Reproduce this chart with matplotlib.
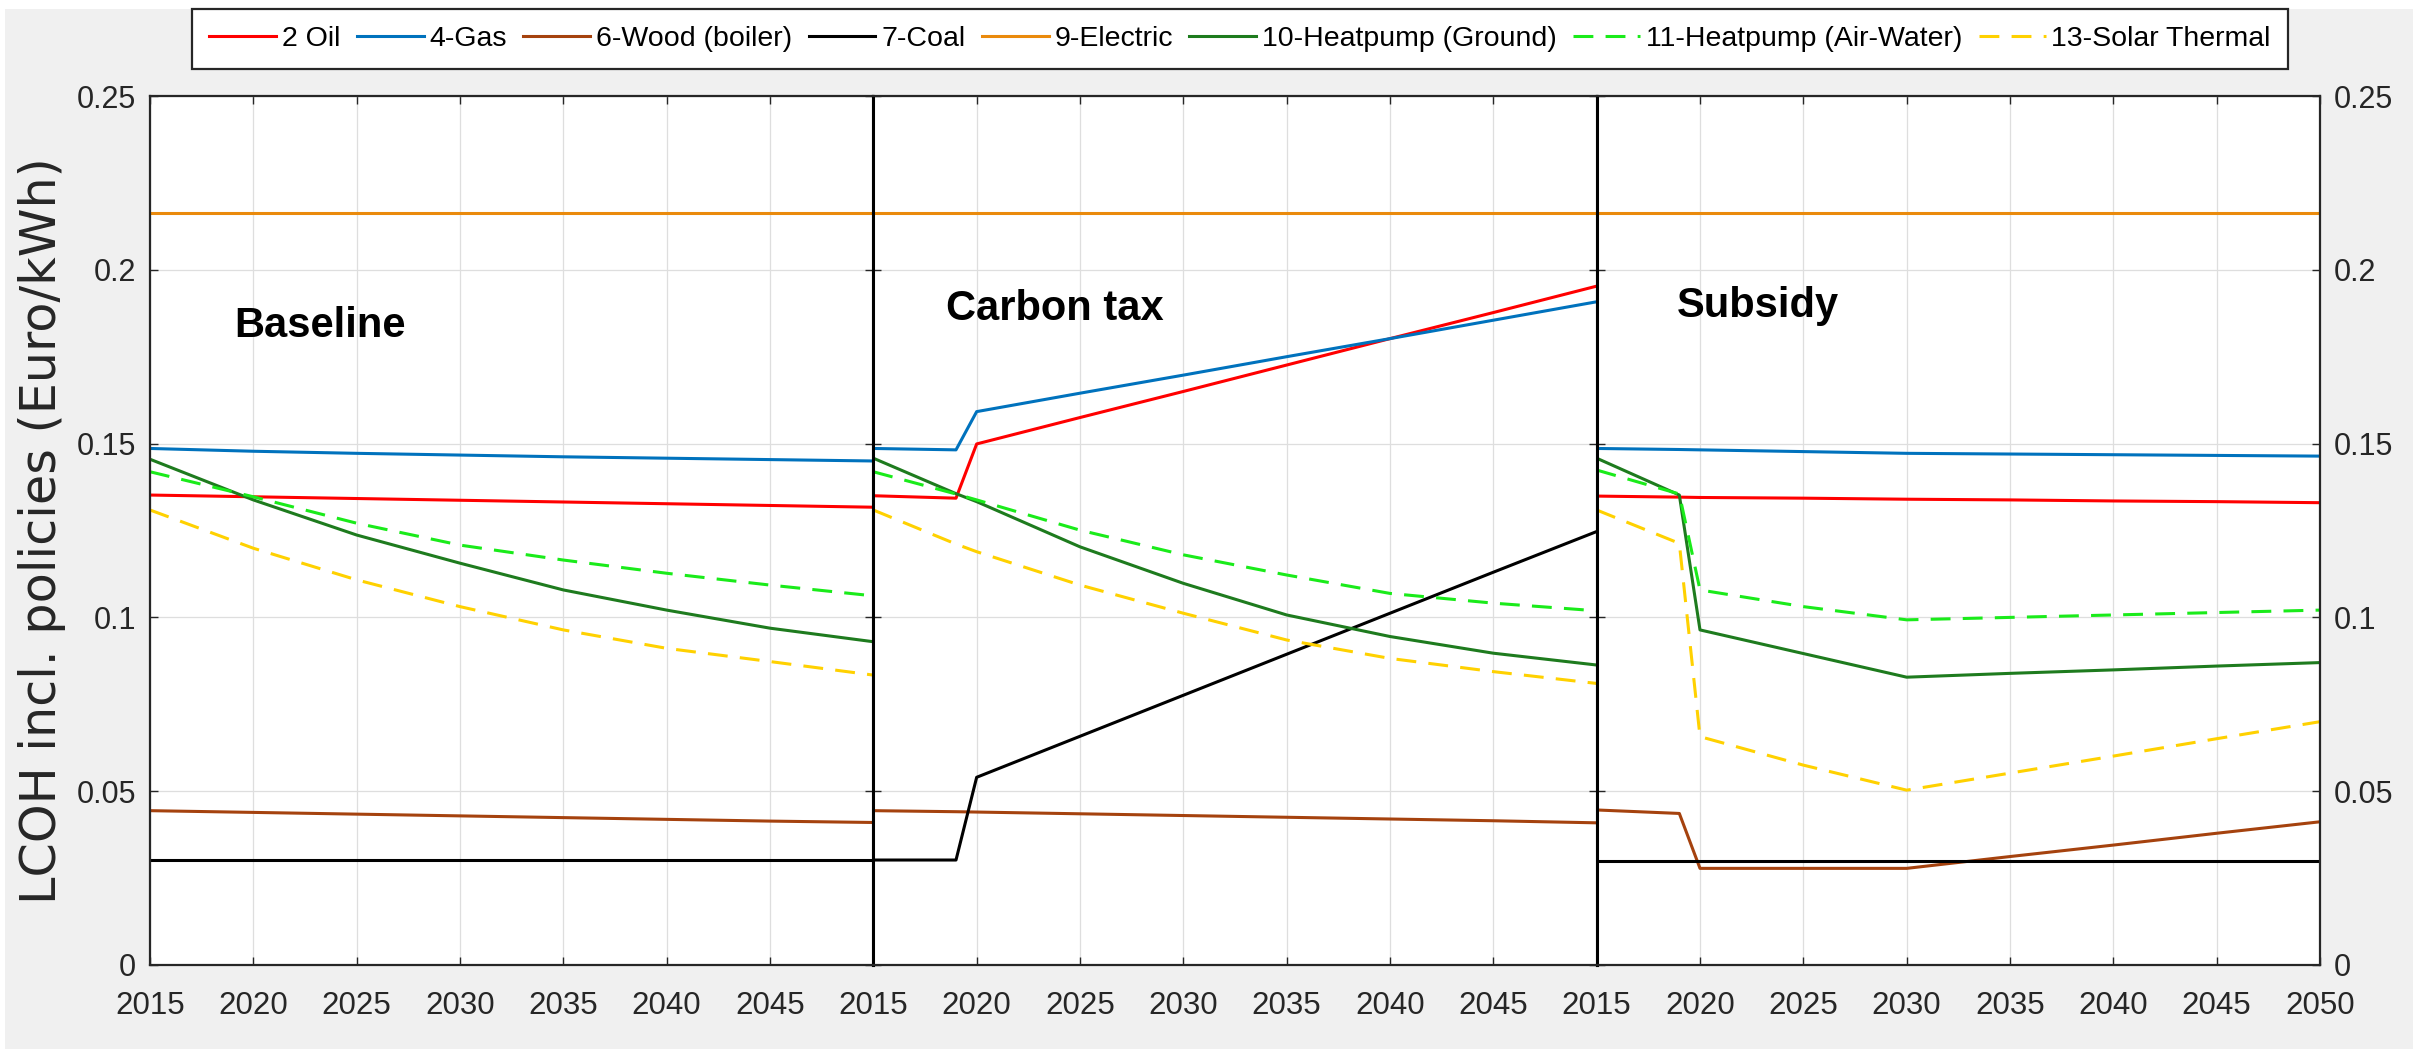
import matplotlib
matplotlib.use("Agg")
import matplotlib.pyplot as plt
from matplotlib.patches import Rectangle

# ---------------------------------------------------------------------------
# Levelised cost of heat (Euro/kWh) per technology under three policy cases
# ---------------------------------------------------------------------------
years_base = [2015, 2020, 2025, 2030, 2035, 2040, 2045, 2050]
years_policy = [2015, 2019, 2020, 2025, 2030, 2035, 2040, 2045, 2050]

scenarios = ["Baseline", "Carbon tax", "Subsidy"]
technologies = ["2 Oil", "4-Gas", "6-Wood (boiler)", "7-Coal", "9-Electric",
                "10-Heatpump (Ground)", "11-Heatpump (Air-Water)", "13-Solar Thermal"]

# Baseline
oil_base = [0.1352, 0.1347, 0.1342, 0.1337, 0.1332, 0.1327, 0.1322, 0.1317]
gas_base = [0.1486, 0.1478, 0.1472, 0.1467, 0.1462, 0.1458, 0.1454, 0.1450]
wood_base = [0.0444, 0.0439, 0.0434, 0.0429, 0.0424, 0.0419, 0.0414, 0.0410]
coal_base = [0.0302, 0.0302, 0.0302, 0.0302, 0.0302, 0.0302, 0.0302, 0.0302]
elec_base = [0.2164, 0.2164, 0.2164, 0.2164, 0.2164, 0.2164, 0.2164, 0.2164]
hp_ground_base = [0.1455, 0.1338, 0.1237, 0.1156, 0.1079, 0.1021, 0.0969, 0.0930]
hp_air_base = [0.1419, 0.1347, 0.1271, 0.1208, 0.1165, 0.1127, 0.1093, 0.1062]
solar_base = [0.1309, 0.1199, 0.1108, 0.1031, 0.0964, 0.0911, 0.0873, 0.0834]

# Carbon tax (introduced 2020)
oil_tax = [0.1350, 0.1343, 0.1499, 0.1575, 0.1650, 0.1726, 0.1802, 0.1877, 0.1953]
gas_tax = [0.1486, 0.1482, 0.1592, 0.1645, 0.1697, 0.1750, 0.1802, 0.1855, 0.1908]
wood_tax = [0.0444, 0.0441, 0.0440, 0.0435, 0.0430, 0.0425, 0.0420, 0.0415, 0.0409]
coal_tax = [0.0302, 0.0302, 0.0540, 0.0658, 0.0776, 0.0894, 0.1012, 0.1130, 0.1247]
elec_tax = [0.2164, 0.2164, 0.2164, 0.2164, 0.2164, 0.2164, 0.2164, 0.2164, 0.2164]
hp_ground_tax = [0.1458, 0.1356, 0.1333, 0.1203, 0.1098, 0.1007, 0.0945, 0.0897, 0.0863]
hp_air_tax = [0.1419, 0.1355, 0.1338, 0.1251, 0.1180, 0.1122, 0.1069, 0.1041, 0.1019]
solar_tax = [0.1309, 0.1211, 0.1189, 0.1093, 0.1012, 0.0935, 0.0882, 0.0844, 0.0810]

# Subsidy (introduced 2020)
oil_sub = [0.1349, 0.1346, 0.1345, 0.1343, 0.1340, 0.1338, 0.1335, 0.1333, 0.1330]
gas_sub = [0.1486, 0.1483, 0.1482, 0.1477, 0.1472, 0.1470, 0.1468, 0.1466, 0.1464]
wood_sub = [0.0446, 0.0436, 0.0278, 0.0278, 0.0278, 0.0312, 0.0345, 0.0379, 0.0412]
coal_sub = [0.0300, 0.0300, 0.0300, 0.0300, 0.0300, 0.0300, 0.0300, 0.0300, 0.0300]
elec_sub = [0.2164, 0.2164, 0.2164, 0.2164, 0.2164, 0.2164, 0.2164, 0.2164, 0.2164]
hp_ground_sub = [0.1458, 0.1352, 0.0964, 0.0896, 0.0828, 0.0839, 0.0849, 0.0860, 0.0870]
hp_air_sub = [0.1424, 0.1355, 0.1079, 0.1031, 0.0993, 0.1000, 0.1007, 0.1014, 0.1021]
solar_sub = [0.1309, 0.1213, 0.0657, 0.0575, 0.0503, 0.0552, 0.0601, 0.0651, 0.0700]

y_ticks = [0, 0.05, 0.1, 0.15, 0.2, 0.25]
y_tick_labels = ["0", "0.05", "0.1", "0.15", "0.2", "0.25"]

# ---------------------------------------------------------------------------
colors = ["#FF0000", "#0072BD", "#A5420E", "#000000", "#EA8A0C",
          "#1E7B1E", "#1AEB1A", "#FFD100"]
dashed = [False, False, False, False, False, False, True, True]

panels = [
    (years_base, [oil_base, gas_base, wood_base, coal_base, elec_base,
                  hp_ground_base, hp_air_base, solar_base]),
    (years_policy, [oil_tax, gas_tax, wood_tax, coal_tax, elec_tax,
                    hp_ground_tax, hp_air_tax, solar_tax]),
    (years_policy, [oil_sub, gas_sub, wood_sub, coal_sub, elec_sub,
                    hp_ground_sub, hp_air_sub, solar_sub]),
]
title_pos = [(2019.1, 0.1838), (2018.5, 0.1887), (2018.9, 0.1895)]

narrow = ["Liberation Sans Narrow", "Liberation Sans", "DejaVu Sans"]
plt.rcParams["font.family"] = ["Liberation Sans", "DejaVu Sans"]

W, H = 2425, 1061
fig = plt.figure(figsize=(W / 100, H / 100), dpi=100)
fig.patch.set_facecolor("white")
fig.patches.append(Rectangle((5 / W, 12 / H), 2408 / W, 1040 / H,
                             transform=fig.transFigure, facecolor="#F0F0F0",
                             edgecolor="none", zorder=-10))

left, right = 150 / W, 2320 / W
bottom, top = 1 - 965 / H, 1 - 96 / H
pw = (right - left) / 3
axes = [fig.add_axes([left + i * pw, bottom, pw, top - bottom]) for i in range(3)]

handles = []
for i, (ax, (yrs, series)) in enumerate(zip(axes, panels)):
    for j, vals in enumerate(series):
        if dashed[j]:
            ln, = ax.plot(yrs, vals, color=colors[j], lw=2.2, ls="--",
                          dashes=(6.5, 4), label=technologies[j])
        else:
            ln, = ax.plot(yrs, vals, color=colors[j], lw=2.2,
                          label=technologies[j])
        if i == 0:
            handles.append(ln)

    ax.set_xlim(2015, 2050)
    ax.set_ylim(0, 0.25)
    ax.set_facecolor("white")
    if i < 2:
        ax.set_xticks(list(range(2015, 2050, 5)))
    else:
        ax.set_xticks(list(range(2015, 2051, 5)))
    ax.set_yticks(y_ticks)
    ax.set_yticklabels(y_tick_labels)
    ax.grid(True, color="#DEDEDE", lw=0.9)
    ax.set_axisbelow(True)
    ax.tick_params(axis="both", direction="in", length=6, width=1,
                   color="#262626", top=True, right=True,
                   labelleft=(i == 0), labelright=(i == 2))
    ax.tick_params(axis="y", labelsize=22, labelcolor="#262626", pad=10)
    ax.tick_params(axis="x", labelsize=22.5, labelcolor="#262626", pad=19)
    for lab in ax.get_xticklabels():
        lab.set_fontfamily(narrow)
    for side, sp in ax.spines.items():
        sp.set_color("#262626")
        sp.set_linewidth(1.6)
    if i > 0:
        ax.spines["left"].set_color("black")
        ax.spines["left"].set_linewidth(2.2)
    if i < 2:
        ax.spines["right"].set_color("black")
        ax.spines["right"].set_linewidth(2.2)

    tx, ty = title_pos[i]
    ax.text(tx, ty, scenarios[i], fontsize=30, fontweight="bold",
            ha="left", va="center", color="black")

fig.text(42 / W, 0.5, "LCOH incl. policies (Euro/kWh)", rotation=90,
         ha="center", va="center", fontsize=35.5, color="#262626",
         family=["DejaVu Sans"])

leg = fig.legend(handles, technologies, loc="upper center",
                 bbox_to_anchor=(1240 / W, 1 - 9 / H), ncol=8,
                 frameon=True, fancybox=False, fontsize=20.5,
                 handlelength=2.35, handletextpad=0.2, columnspacing=0.58,
                 borderpad=0.6, borderaxespad=0)
frame = leg.get_frame()
frame.set_edgecolor("#262626")
frame.set_linewidth(1.6)
frame.set_facecolor("white")
frame.set_alpha(1)

fig.savefig("out.png", dpi=100, facecolor=fig.get_facecolor())
